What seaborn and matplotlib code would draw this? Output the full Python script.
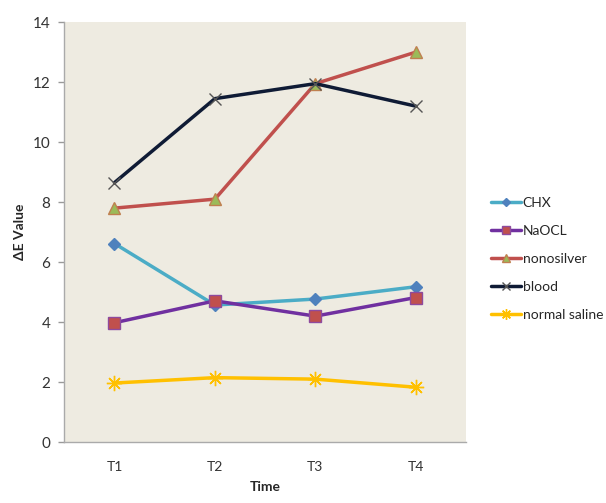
import pandas as pd
import matplotlib
matplotlib.use("Agg")
import matplotlib.pyplot as plt
import seaborn as sns

# values
times = ["T1", "T2", "T3", "T4"]
chx = [6.62, 4.57, 4.77, 5.18]
naocl = [3.98, 4.71, 4.20, 4.82]
nonosilver = [7.80, 8.10, 11.95, 13.00]
blood = [8.65, 11.45, 11.95, 11.20]
normal_saline = [1.97, 2.15, 2.10, 1.83]

series = [
    ("CHX", chx, "#4BACC6", "D", "#4F81BD", "#4F81BD", 6),
    ("NaOCL", naocl, "#7030A0", "s", "#C0504D", "#8E4A9E", 8),
    ("nonosilver", nonosilver, "#C0504D", "^", "#9BBB59", "#C08050", 8),
    ("blood", blood, "#0F1B35", "x", "#555555", "#555555", 9),
    ("normal saline", normal_saline, "#FFC000", (8, 2, 0), "#FFC000", "#FFC000", 11),
]

sns.set_style("white")
plt.rcParams["font.family"] = ["Lato", "DejaVu Sans"]

fig = plt.figure(figsize=(6.06, 5.03), dpi=100)
ax = fig.add_axes([0.106, 0.121, 0.663, 0.835])
ax.set_facecolor("#EEEBE1")

for name, vals, lc, mk, mfc, mec, ms in series:
    df = pd.DataFrame({"Time": times, "value": vals})
    sns.lineplot(data=df, x="Time", y="value", ax=ax, color=lc, linewidth=2.5,
                 marker=mk, markersize=ms, markerfacecolor=mfc,
                 markeredgecolor=mec, markeredgewidth=1, label=name, sort=False)

ax.set_xlim(-0.5, 3.5)
ax.set_ylim(0, 14)
ax.set_yticks(range(0, 15, 2))
ax.set_xlabel("Time", fontsize=10, fontweight="bold", labelpad=6)
ax.set_ylabel("ΔE Value", fontsize=10, fontweight="bold", labelpad=5)
ax.tick_params(axis="y", left=True, length=4, width=1, color="#999999",
               labelsize=11, labelcolor="#333333", pad=6)
ax.tick_params(axis="x", bottom=False, labelsize=10, labelcolor="#333333", pad=10)
for side in ["top", "right"]:
    ax.spines[side].set_visible(False)
for side in ["left", "bottom"]:
    ax.spines[side].set_color("#AAAAAA")
    ax.spines[side].set_linewidth(1)

ax.legend(loc="center left", bbox_to_anchor=(1.03, 0.436), frameon=False,
          fontsize=10, handlelength=2.2, handletextpad=0.1, labelspacing=1.15,
          markerscale=0.7)

fig.savefig("out.png", dpi=100, facecolor="white")
